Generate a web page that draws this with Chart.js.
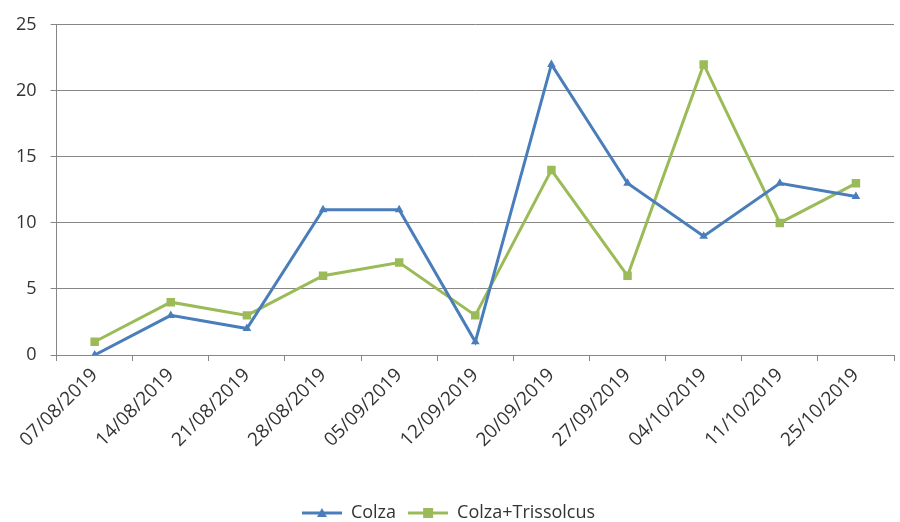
<!DOCTYPE html>
<html>
<head>
<meta charset="utf-8">
<script src="https://cdn.jsdelivr.net/npm/chart.js@4/dist/chart.umd.min.js"></script>
<style>
  html, body { margin: 0; padding: 0; background: #fff; }
  #wrap { width: 900px; height: 522px; position: relative; }
</style>
</head>
<body>
<div id="wrap"><canvas id="myChart"></canvas></div>
<script>
// dates de relevé
const dates = ['07/08/2019', '14/08/2019', '21/08/2019', '28/08/2019', '05/09/2019',
  '12/09/2019', '20/09/2019', '27/09/2019', '04/10/2019', '11/10/2019', '25/10/2019'];
const colza = [0, 3, 2, 11, 11, 1, 22, 13, 9, 13, 12];
const colzaTrissolcus = [1, 4, 3, 6, 7, 3, 14, 6, 22, 10, 13];
const yTicks = [0, 5, 10, 15, 20, 25];

const BLUE = '#4A7EBB';
const GREEN = '#9BBB59';
const FONT = "'Open Sans', 'Liberation Sans', sans-serif";

// petite icône de légende : ligne + marqueur
function legendIcon(color, marker) {
  const c = document.createElement('canvas');
  c.width = 40; c.height = 14;
  const g = c.getContext('2d');
  g.strokeStyle = color;
  g.lineWidth = 3;
  g.beginPath(); g.moveTo(0, 7); g.lineTo(40, 7); g.stroke();
  g.fillStyle = color;
  if (marker === 'triangle') {
    g.beginPath(); g.moveTo(20, 2); g.lineTo(25, 11); g.lineTo(15, 11); g.closePath(); g.fill();
  } else {
    g.fillRect(15, 2, 10, 10);
  }
  return c;
}

const ctx = document.getElementById('myChart');
new Chart(ctx, {
  type: 'line',
  data: {
    labels: dates,
    datasets: [{
      label: 'Colza',
      data: colza,
      borderColor: BLUE,
      backgroundColor: BLUE,
      borderWidth: 3,
      pointStyle: 'triangle',
      pointRadius: 5,
      pointBorderWidth: 0,
      tension: 0
    }, {
      label: 'Colza+Trissolcus',
      data: colzaTrissolcus,
      borderColor: GREEN,
      backgroundColor: GREEN,
      borderWidth: 3,
      pointStyle: 'rect',
      pointRadius: 6,
      pointBorderWidth: 0,
      tension: 0
    }]
  },
  options: {
    responsive: true,
    maintainAspectRatio: false,
    animation: false,
    layout: { padding: { top: 8, right: 5, left: 2, bottom: 0 } },
    plugins: {
      tooltip: { enabled: false },
      legend: {
        position: 'bottom',
        maxHeight: 30,
        labels: {
          font: { family: FONT, size: 18 },
          color: '#333',
          usePointStyle: true,
          pointStyleWidth: 40,
          boxWidth: 40,
          padding: 12,
          generateLabels: (chart) => chart.data.datasets.map((d, i) => ({
            text: d.label,
            fillStyle: d.borderColor,
            strokeStyle: d.borderColor,
            fontColor: '#333',
            pointStyle: legendIcon(d.borderColor, i === 0 ? 'triangle' : 'rect'),
            datasetIndex: i,
            hidden: false
          }))
        }
      }
    },
    scales: {
      x: {
        offset: true,
        afterFit: (s) => { s.height = 137; },
        grid: { offset: true, drawOnChartArea: false, color: '#868686', tickLength: 6 },
        border: { color: '#868686', width: 1 },
        ticks: {
          minRotation: 45, maxRotation: 45,
          font: { family: FONT, size: 19 },
          color: '#333'
        }
      },
      y: {
        min: 0, max: 25,
        afterBuildTicks: (axis) => { axis.ticks = yTicks.map(v => ({ value: v })); },
        grid: { color: '#868686', tickLength: 6 },
        border: { color: '#868686', width: 1 },
        ticks: {
          padding: 14,
          font: { family: FONT, size: 18 },
          color: '#333'
        }
      }
    }
  }
});
</script>
</body>
</html>
